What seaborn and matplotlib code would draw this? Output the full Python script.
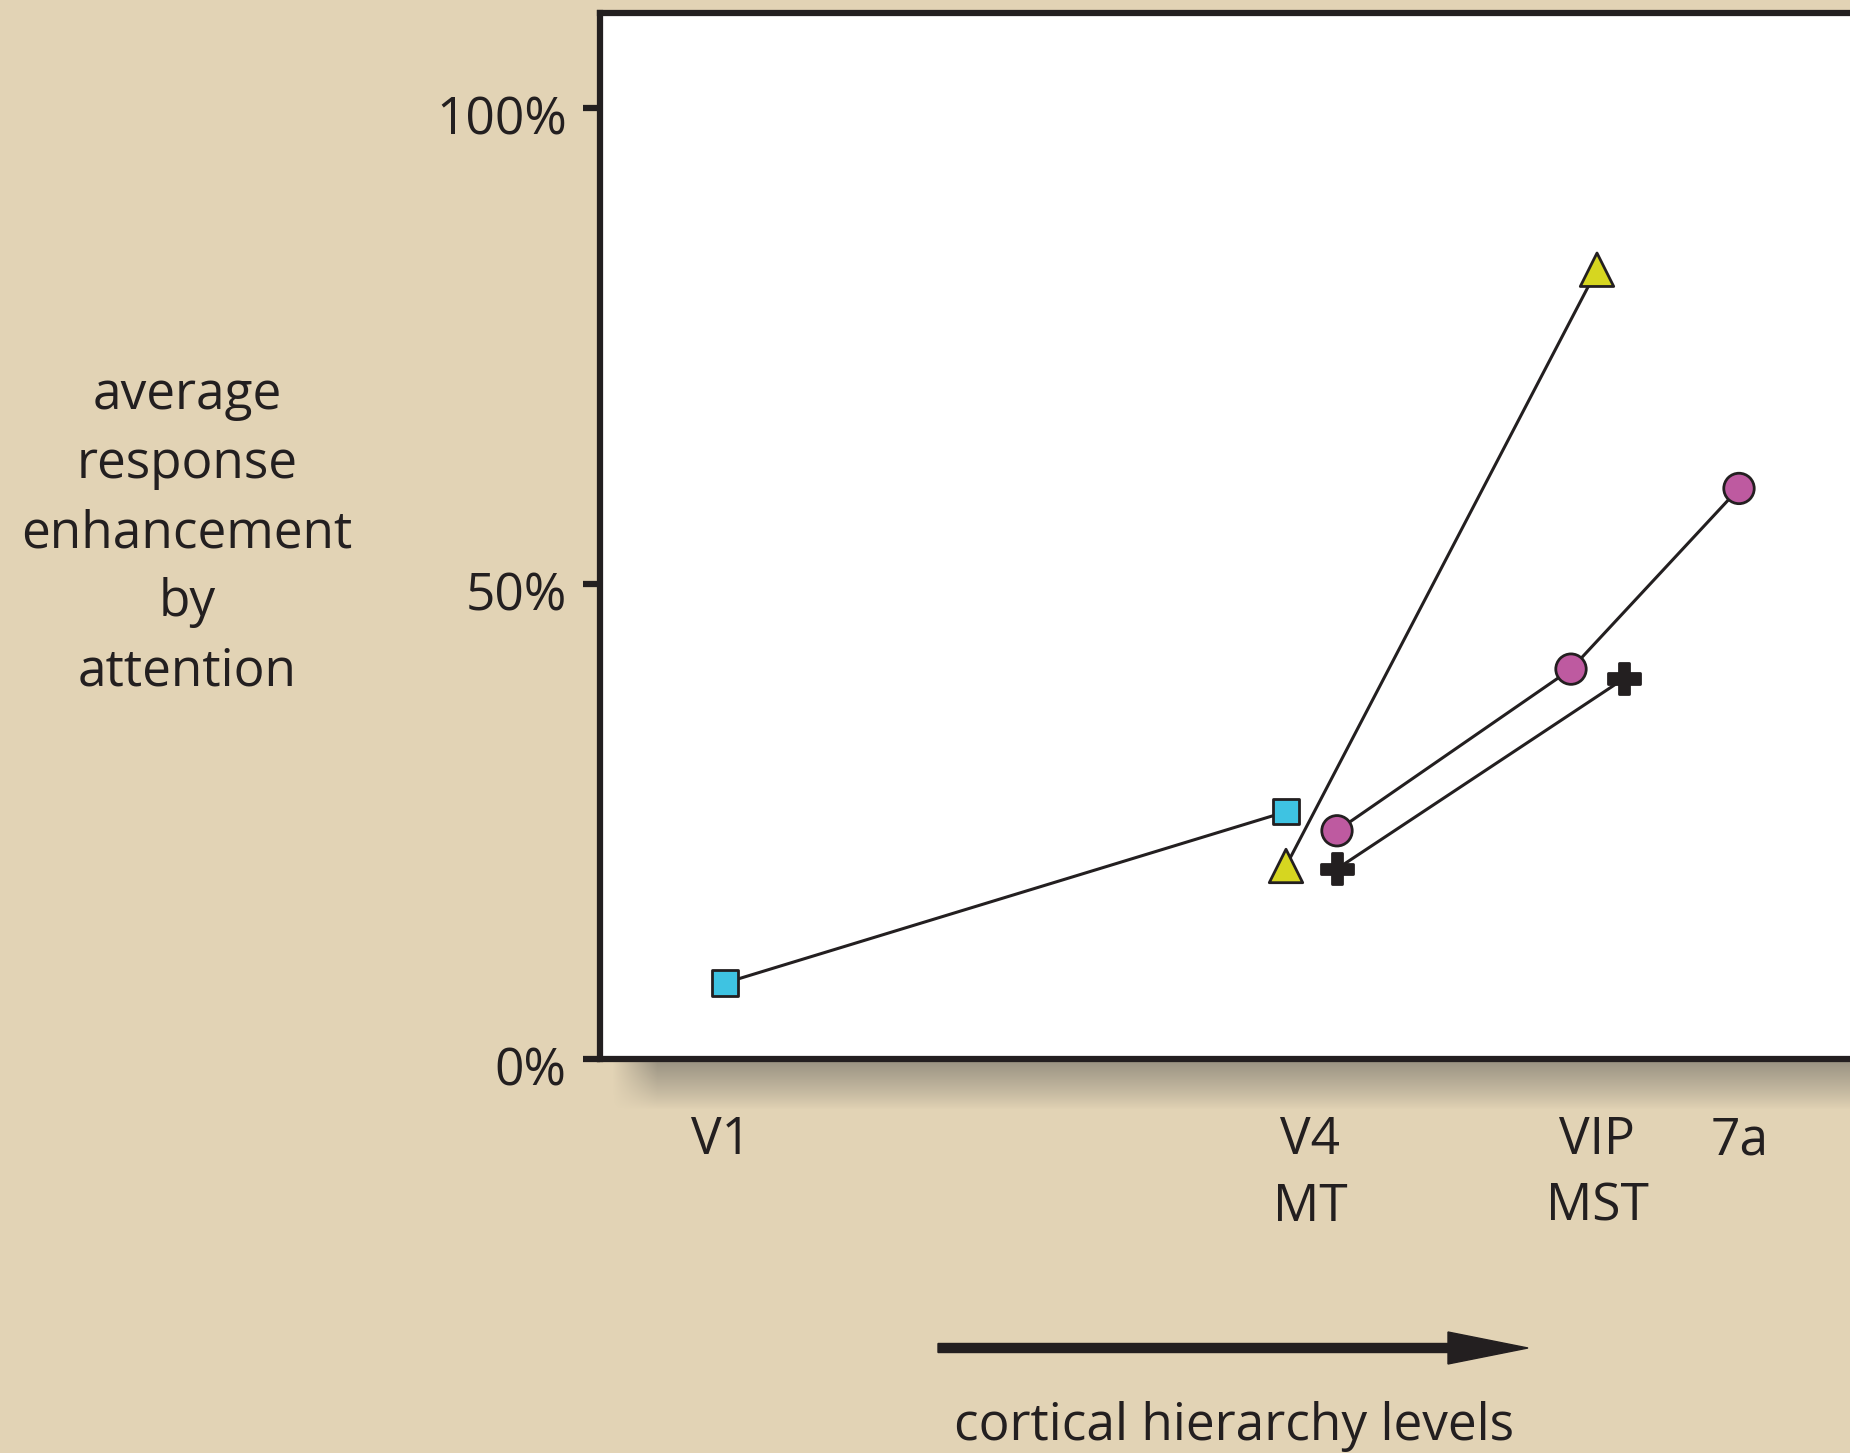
import numpy as np
import pandas as pd
import seaborn as sns
import matplotlib.pyplot as plt
from matplotlib.patches import FancyArrow
from matplotlib.transforms import ScaledTranslation

# positions along the hierarchy axis and % response enhancement
sq_x = [1.25, 6.86]
sq_y = [8, 26]
tri_x = [6.86, 9.97]
tri_y = [20.3, 83]
circ_x = [7.37, 9.71, 11.39]
circ_y = [24, 41, 60]
plus_x = [7.37, 10.24]
plus_y = [20, 40]

level_pos = [1.21, 7.10, 9.97, 11.40]
level_labels = ['V1', 'V4\nMT', 'VIP\nMST', '7a']
y_ticks = [0, 50, 100]
y_ticklabels = ['0%', '50%', '100%']

pts = pd.concat([
    pd.DataFrame({'series': 'square', 'x': sq_x, 'y': sq_y}),
    pd.DataFrame({'series': 'triangle', 'x': tri_x, 'y': tri_y}),
    pd.DataFrame({'series': 'circle', 'x': circ_x, 'y': circ_y}),
    pd.DataFrame({'series': 'plus', 'x': plus_x, 'y': plus_y}),
], ignore_index=True)

ink = '#231F20'
bg = '#E2D3B5'
palette = {'square': '#3EC3E2', 'triangle': '#D6D620', 'circle': '#BE5AA0', 'plus': ink}
markers = {'square': 's', 'triangle': '^', 'circle': 'o', 'plus': 'P'}
sizes = {'square': 330, 'triangle': 580, 'circle': 480, 'plus': 500}

sns.set_theme(style='white')
plt.rcParams['font.family'] = ['Open Sans', 'DejaVu Sans']
plt.rcParams['text.color'] = ink
plt.rcParams['xtick.color'] = ink
plt.rcParams['ytick.color'] = ink

W, H = 1850, 1453
fig = plt.figure(figsize=(W / 100, H / 100), dpi=100, facecolor=bg)

# drop shadow under the panel
sh_h = 50
sh = fig.add_axes([612 / W, (H - 1060 - sh_h) / H, (W - 612) / W, sh_h / H], zorder=0)
t = np.linspace(0, 1, sh_h)
a_v = 0.55 * (1 - t) ** 0.9
a_h = np.clip(np.arange(W - 612) / 45.0, 0, 1)
img = np.zeros((sh_h, W - 612, 4))
img[..., :3] = [0.36, 0.36, 0.34]
img[..., 3] = a_v[:, None] * a_h[None, :]
sh.imshow(img, aspect='auto', interpolation='bilinear')
sh.axis('off')

ax_w = 1.05 - 600 / W
ax = fig.add_axes([600 / W, (H - 1059) / H, ax_w, (1059 - 13) / H], zorder=1)
ax.set_facecolor('white')

sns.lineplot(data=pts, x='x', y='y', units='series', estimator=None, sort=False,
             color=ink, lw=2.2, ax=ax)
sns.scatterplot(data=pts, x='x', y='y', hue='series', style='series', size='series',
                palette=palette, markers=markers, sizes=sizes, edgecolor=ink,
                linewidth=2.0, legend=False, zorder=3, ax=ax, clip_on=False)

ax.set_xlim(0, ax_w * W / 100)
ax.set_ylim(0, 110)
ax.set_xticks(level_pos)
ax.set_xticklabels(level_labels, linespacing=1.4)
ax.set_yticks(y_ticks)
ax.set_yticklabels(y_ticklabels)
ax.set_xlabel('')
ax.set_ylabel('')
ax.tick_params(axis='x', length=0, pad=40.5, labelsize=37)
ax.tick_params(axis='y', direction='out', length=12, width=4.5, pad=12, labelsize=37, left=True)
for lab in ax.get_yticklabels():
    lab.set_transform(lab.get_transform() + ScaledTranslation(0, -0.07, fig.dpi_scale_trans))
for s in ax.spines.values():
    s.set_visible(True)
    s.set_linewidth(4.5)
    s.set_color(ink)

# multi-line label: baseline alignment uses the last line
fig.text(1.87, (H - 685) / 100, 'average\nresponse\nenhancement\nby\nattention',
         transform=fig.dpi_scale_trans, ha='center', va='baseline',
         multialignment='center', linespacing=1.46, fontsize=37)

arrow = FancyArrow(9.38, (H - 1348) / 100, 5.90, 0, width=0.09, head_width=0.32,
                   head_length=0.80, length_includes_head=True, color=ink,
                   transform=fig.dpi_scale_trans)
fig.patches.append(arrow)
fig.text(12.34, (H - 1440) / 100, 'cortical hierarchy levels',
         transform=fig.dpi_scale_trans, ha='center', va='baseline', fontsize=37)

fig.savefig('out.png', dpi=100, facecolor=bg)
